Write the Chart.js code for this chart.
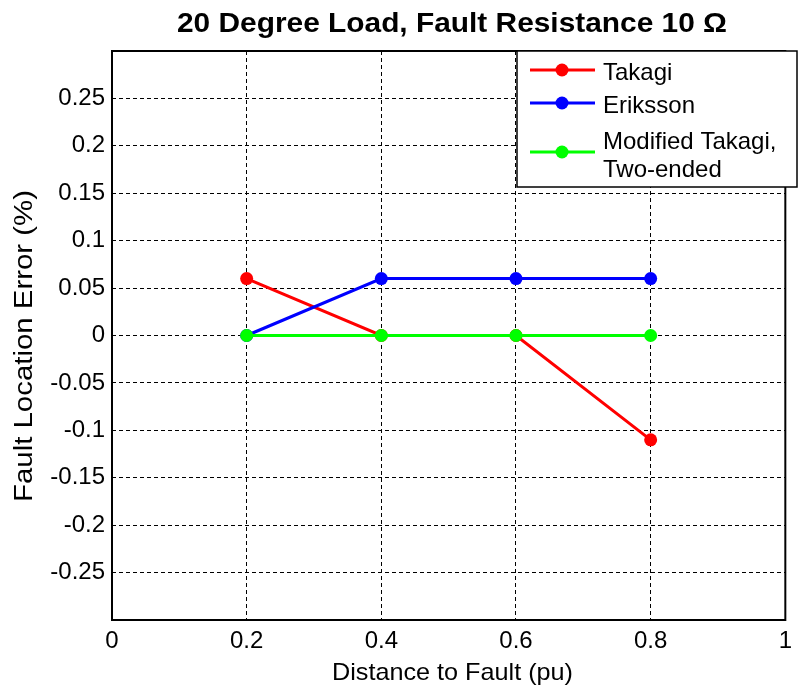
<!DOCTYPE html>
<html><head><meta charset="utf-8">
<script src="https://cdn.jsdelivr.net/npm/chart.js@4"></script>
<style>html,body{margin:0;padding:0;background:#fff}#wrap{width:799px;height:687px}</style>
</head><body><div id="wrap"><canvas id="c" width="799" height="687"></canvas></div>
<script>
const distances = [0.2, 0.4, 0.6, 0.8];
const takagi = [0.06, 0, 0, -0.11];
const eriksson = [0, 0.06, 0.06, 0.06];
const modifiedTakagi = [0, 0, 0, 0];
const seriesNames = ['Takagi', 'Eriksson', 'Modified Takagi,\nTwo-ended'];
const seriesColors = ['#ff0000', '#0000ff', '#00ff00'];
const xTickValues = [0, 0.2, 0.4, 0.6, 0.8, 1];
const yTickValues = [-0.25, -0.2, -0.15, -0.1, -0.05, 0, 0.05, 0.1, 0.15, 0.2, 0.25];
const chartTitle = '20 Degree Load, Fault Resistance 10 \u03A9';
const xTitle = 'Distance to Fault (pu)';
const yTitle = 'Fault Location Error (%)';

const FONT = "'Liberation Sans', Arial, sans-serif";
const seriesValues = [takagi, eriksson, modifiedTakagi];

const datasets = seriesValues.map((vals, i) => ({
  label: seriesNames[i],
  data: distances.map((d, j) => ({x: d, y: vals[j]})),
  borderColor: seriesColors[i],
  backgroundColor: seriesColors[i],
  borderWidth: 3,
  pointRadius: 6.5,
  pointHoverRadius: 6.5,
  pointBorderWidth: 0,
  tension: 0,
  order: 3 - i
}));

function fmt(v) {
  return String(Math.round(v * 1000) / 1000);
}

// draw text stretched horizontally to a target width
function fitText(ctx, text, x, y, width) {
  const w = ctx.measureText(text).width;
  ctx.save();
  ctx.translate(x, y);
  ctx.scale(width / w, 1);
  ctx.fillText(text, 0, 0);
  ctx.restore();
}

const frame = {
  id: 'frame',
  afterDraw(chart) {
    const {ctx, chartArea: a, data} = chart;
    ctx.save();
    ctx.setLineDash([]);
    ctx.strokeStyle = '#000';
    ctx.lineWidth = 2;
    ctx.strokeRect(a.left, a.top, a.right - a.left, a.bottom - a.top);

    ctx.fillStyle = '#000';
    ctx.textAlign = 'center';
    ctx.textBaseline = 'alphabetic';
    // title
    ctx.font = 'bold 28px ' + FONT;
    fitText(ctx, chartTitle, 452, 32, 550);

    // axis titles
    ctx.font = '24px ' + FONT;
    fitText(ctx, xTitle, 452.5, 680, 241);
    ctx.save();
    ctx.translate(32, 346);
    ctx.rotate(-Math.PI / 2);
    ctx.font = '25px ' + FONT;
    fitText(ctx, yTitle, 0, 0, 312);
    ctx.restore();

    // legend
    const lx = 517, ly = 51, lw = 280, lh = 136;
    ctx.fillStyle = '#fff';
    ctx.fillRect(lx, ly, lw, lh);
    ctx.lineWidth = 1.5;
    ctx.strokeStyle = '#000';
    ctx.strokeRect(lx, ly, lw, lh);
    const rows = [70, 103, 152];
    const baselines = [[80], [113], [149, 177]];
    ctx.font = '24px ' + FONT;
    ctx.textAlign = 'left';
    data.datasets.forEach((ds, i) => {
      const y = rows[i];
      ctx.strokeStyle = ds.borderColor;
      ctx.lineWidth = 3;
      ctx.beginPath(); ctx.moveTo(530, y); ctx.lineTo(595, y); ctx.stroke();
      ctx.fillStyle = ds.backgroundColor;
      ctx.beginPath(); ctx.arc(562, y, 6.5, 0, Math.PI * 2); ctx.fill();
      ctx.fillStyle = '#000';
      ds.label.split('\n').forEach((t, k) => ctx.fillText(t, 603, baselines[i][k]));
    });
    ctx.restore();
  }
};

new Chart(document.getElementById('c'), {
  type: 'line',
  data: {datasets},
  plugins: [frame],
  options: {
    responsive: false,
    animation: false,
    devicePixelRatio: 1,
    layout: {padding: {top: 51, right: 4, left: 0, bottom: 0}},
    plugins: {legend: {display: false}, title: {display: false}, tooltip: {enabled: false}},
    scales: {
      x: {
        type: 'linear', min: 0, max: 1,
        afterBuildTicks: s => { s.ticks = xTickValues.map(v => ({value: v})); },
        afterFit: s => { s.height = 67; },
        ticks: {color: '#000', font: {family: FONT, size: 24}, padding: 7, maxRotation: 0, autoSkip: false, callback: v => fmt(v)},
        grid: {color: '#000', lineWidth: 1, drawTicks: false},
        border: {display: false, dash: [4, 3]}
      },
      y: {
        type: 'linear', min: -0.3, max: 0.3,
        afterBuildTicks: s => { s.ticks = [-0.3, ...yTickValues, 0.3].map(v => ({value: v})); },
        afterFit: s => { s.width = 112; },
        ticks: {color: '#000', font: {family: FONT, size: 24}, padding: 7, autoSkip: false,
          callback: v => (Math.abs(Math.abs(v) - 0.3) < 1e-9 ? '' : fmt(v))},
        grid: {color: '#000', lineWidth: 1, drawTicks: false},
        border: {display: false, dash: [4, 3]}
      }
    }
  }
});
</script>
</body></html>
